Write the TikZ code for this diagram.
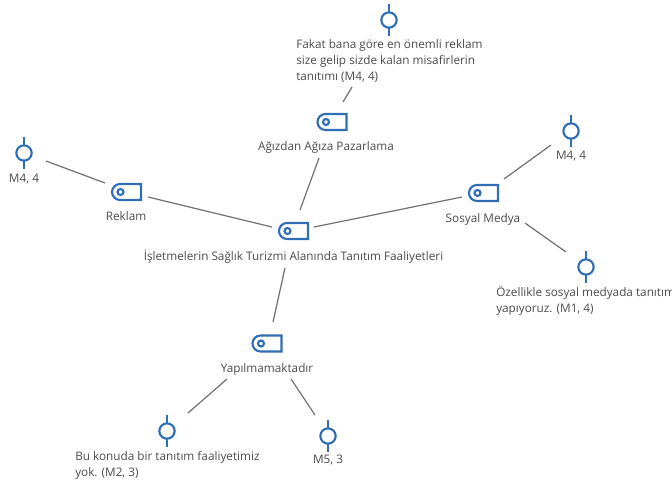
\documentclass[tikz,border=0pt]{standalone}
\usepackage{fontspec}
\setmainfont{Open Sans}
\definecolor{txt}{HTML}{4A4A4A}
\definecolor{lnk}{HTML}{707070}
\definecolor{icn}{HTML}{2F6DB5}
\tikzset{
  x=0.75pt,y=-0.75pt,
  lbl/.style={font=\fontsize{8.82pt}{12pt}\selectfont,text=txt,inner sep=0pt},
  one/.style={lbl,text height=7pt,text depth=2pt},
  blk/.style={lbl,align=left,anchor=north west},
  link/.style={draw=lnk,line width=0.9pt},
  tagbox/.style={minimum width=22.5pt,minimum height=13.5pt,inner sep=0pt,outer sep=0pt},
  quote/.style={circle,draw=icn,line width=1.6pt,minimum size=11.5pt,inner sep=0pt,outer sep=0pt},
  stem/.style={draw=icn,line width=1.6pt}
}
\newcommand{\tagicon}[3]{%
  \node[tagbox] (#1) at (#2,#3) {};
  \draw[icn,line width=1.6pt]
    ([shift={(14.5,8)}]#1.center) -- ([shift={(-6.5,8)}]#1.center)
    arc[start angle=90,end angle=270,radius=8]
    -- ([shift={(14.5,-8)}]#1.center) -- cycle;
  \draw[icn,line width=1.6pt] ([shift={(-6,0)}]#1.center) circle[radius=3];
}
\newcommand{\quoteicon}[3]{%
  \node[quote] (#1) at (#2,#3) {};
  \draw[stem] (#1.north) -- ++(0,-8);
  \draw[stem] (#1.south) -- ++(0,8);
}
\begin{document}
\begin{tikzpicture}
\useasboundingbox (0,0) rectangle (672,483);
% icons
\tagicon{root}{293.5}{231}
\tagicon{reklam}{126.5}{192}
\tagicon{agiz}{332}{122}
\tagicon{sosyal}{483.5}{193}
\tagicon{yap}{267}{343.5}
\quoteicon{qtop}{389}{20}
\quoteicon{qleft}{24}{153}
\quoteicon{qright}{571}{131}
\quoteicon{qoz}{586}{267}
\quoteicon{qbu}{167}{431}
\quoteicon{qmf}{328}{436}
% labels
\node[one] (troot) at (293.5,257) {İşletmelerin Sağlık Turizmi Alanında Tanıtım Faaliyetleri};
\node[one] (treklam) at (126,217) {Reklam};
\node[one] (tagiz) at (326,147) {Ağızdan Ağıza Pazarlama};
\node[one] (tsosyal) at (483,219) {Sosyal Medya};
\node[one] (tyap) at (267,369) {Yapılmamaktadır};
\node[one] (tqleft) at (24,179) {M4, 4};
\node[one] (tqright) at (571,156) {M4, 4};
\node[one] (tqmf) at (328,460) {M5, 3};
\node[blk] (tqtop) at (296,39.5) {Fakat bana göre en önemli reklam\\size gelip sizde kalan misafirlerin\\tanıtımı (M4, 4)};
\node[blk] (tqoz) at (496,285.5) {Özellikle sosyal medyada tanıtım\\yapıyoruz. (M1, 4)};
\node[blk] (tqbu) at (75,451) {Bu konuda bir tanıtım faaliyetimiz\\yok. (M2, 3)};
% connectors
\draw[link] ([shift={(22,8)}]qleft.center) -- ([shift={(-21.5,-9)}]reklam.center);
\draw[link] ([shift={(21.5,5)}]reklam.center) -- ([shift={(-21.5,-4)}]root.center);
\draw[link] ([shift={(-13,36)}]agiz.center) -- ([shift={(6.5,-21)}]root.center);
\draw[link] ([shift={(-37,67)}]qtop.center) -- ([shift={(11,-20)}]agiz.center);
\draw[link] ([shift={(20.5,-4)}]root.center) -- ([shift={(-21.5,4)}]sosyal.center);
\draw[link] ([shift={(20.5,-14)}]sosyal.center) -- ([shift={(-20,14)}]qright.center);
\draw[link] ([shift={(41.5,30)}]sosyal.center) -- ([shift={(-20,-15)}]qoz.center);
\draw[link] ([shift={(-8.5,37)}]root.center) -- ([shift={(6,-21.5)}]yap.center);
\draw[link] ([shift={(-40,35.5)}]yap.center) -- ([shift={(21,-18)}]qbu.center);
\draw[link] ([shift={(24,35.5)}]yap.center) -- ([shift={(-13,-21)}]qmf.center);
\end{tikzpicture}
\end{document}
